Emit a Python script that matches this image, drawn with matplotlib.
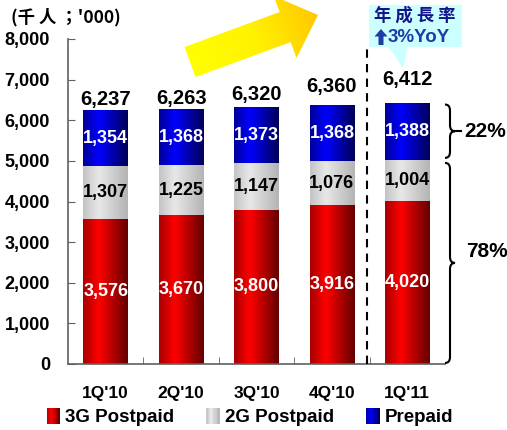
import numpy as np
import matplotlib.pyplot as plt
from matplotlib.colors import LinearSegmentedColormap
from matplotlib.patches import Polygon, Rectangle, PathPatch
from matplotlib.path import Path
from matplotlib.legend_handler import HandlerBase

# --- data ---
quarters = ["1Q'10", "2Q'10", "3Q'10", "4Q'10", "1Q'11"]
postpaid_3g = [3576, 3670, 3800, 3916, 4020]
postpaid_2g = [1307, 1225, 1147, 1076, 1004]
prepaid = [1354, 1368, 1373, 1368, 1388]
totals = [6237, 6263, 6320, 6360, 6412]
share_labels = ['22%', '78%']
yticks = [0, 1000, 2000, 3000, 4000, 5000, 6000, 7000, 8000]

# layout bits
total_pad = [8, 8, 9, 14, 17]   # points above bar top for total labels
W, H = 507, 430
FONT = ['Liberation Sans', 'DejaVu Sans']
CJK = ['Noto Sans CJK TC', 'Liberation Sans', 'DejaVu Sans']

red_cm = LinearSegmentedColormap.from_list('red', [(0, '#a80000'), (0.35, '#ff0000'), (1, '#640000')])
gray_cm = LinearSegmentedColormap.from_list('gray', [(0, '#c4c4c4'), (0.35, '#e8e8e8'), (1, '#b4b4b4')])
blue_cm = LinearSegmentedColormap.from_list('blue', [(0, '#000098'), (0.35, '#0000ff'), (1, '#000058')])
arrow_cm = LinearSegmentedColormap.from_list('arr', ['#ffff00', '#fff200', '#ffc800'])

plt.rcParams['font.family'] = FONT
plt.rcParams['font.weight'] = 'bold'

fig = plt.figure(figsize=(W / 100, H / 100), dpi=100)
ax = fig.add_axes([68 / W, 66 / H, 377 / W, 325 / H])

x = np.arange(len(quarters))
bw = 0.59
b1 = ax.bar(x, postpaid_3g, bw, color='none', zorder=2)
bottom2 = np.array(postpaid_3g)
b2 = ax.bar(x, postpaid_2g, bw, bottom=bottom2, color='none', zorder=2)
bottom3 = bottom2 + np.array(postpaid_2g)
b3 = ax.bar(x, prepaid, bw, bottom=bottom3, color='none', zorder=2)

grad = np.linspace(0, 1, 64).reshape(1, -1)
for cont, cm in [(b1, red_cm), (b2, gray_cm), (b3, blue_cm)]:
    for bar in cont:
        bx, by = bar.get_x(), bar.get_y()
        ax.imshow(grad, cmap=cm, extent=(bx, bx + bar.get_width(), by, by + bar.get_height()),
                  aspect='auto', zorder=2, interpolation='bicubic')

# segment labels
for i in range(len(quarters)):
    ax.text(x[i], postpaid_3g[i] / 2, f'{postpaid_3g[i]:,}', ha='center', va='center',
            color='white', fontsize=13, zorder=3)
    ax.text(x[i], bottom2[i] + postpaid_2g[i] / 2, f'{postpaid_2g[i]:,}', ha='center', va='center',
            color='black', fontsize=13, zorder=3)
    ax.text(x[i], bottom3[i] + prepaid[i] / 2, f'{prepaid[i]:,}', ha='center', va='center',
            color='white', fontsize=13, zorder=3)
    ax.annotate(f'{totals[i]:,}', (x[i], totals[i]), xytext=(0, total_pad[i]),
                textcoords='offset points', ha='center', va='center', fontsize=14.5)

# dashed separator
ax.plot([3.46, 3.46], [0, 7800], color='black', lw=1.5, linestyle=(0, (4, 3)), clip_on=False, zorder=4)

ax.set_xlim(-0.5, 4.5)
ax.set_ylim(0, 8000)
ax.set_yticks(yticks)
ax.set_yticklabels([f'{v:,}' for v in yticks])
ax.set_xticks(x)
ax.set_xticklabels(quarters)
ax.set_xticks(x[:-1] + 0.5, minor=True)
ax.tick_params(axis='x', which='major', length=0, pad=16, labelsize=12.5)
ax.tick_params(axis='x', which='minor', length=5, direction='in', color='#606060')
ax.tick_params(axis='y', length=5, direction='in', pad=13, labelsize=13, color='#606060')
for s in ['top', 'right']:
    ax.spines[s].set_visible(False)
for s in ['left', 'bottom']:
    ax.spines[s].set_color('#606060')
    ax.spines[s].set_linewidth(1.2)

# overlay in pixel coords (y down)
ov = fig.add_axes([0, 0, 1, 1], zorder=5)
ov.set_xlim(0, W)
ov.set_ylim(H, 0)
ov.axis('off')

# yellow arrow
T = np.array([190.0, 62.0])
P = np.array([318.0, 15.0])
d = (P - T) / np.linalg.norm(P - T)
n = np.array([-d[1], d[0]]) * -1
hb, hh, hl = 16, 33, 35
B = P - d * hl
pts = [T - n * hb, B - n * hb, B - n * hh, P, B + n * hh, B + n * hb, T + n * hb]
arrow = Polygon(pts, closed=True, fc='none', ec='none')
ov.add_patch(arrow)
xs = np.linspace(175, 325, 150)
ys = np.linspace(-10, 85, 95)
XX, YY = np.meshgrid(xs, ys)
proj = ((XX - T[0]) * d[0] + (YY - T[1]) * d[1]) / np.linalg.norm(P - T)
im = ov.imshow(proj, cmap=arrow_cm, extent=(175, 325, 85, -10), origin='upper',
               aspect='auto', vmin=0, vmax=1)
im.set_clip_path(arrow)

# callout box
ov.add_patch(Rectangle((369, 5), 93, 42, fc='#ccffff', ec='none'))
ov.add_patch(Polygon([(388, 46), (408, 46), (403, 68)], closed=True, fc='#ccffff', ec='none'))
ov.text(415, 16, '年 成 長 率', ha='center', va='center', fontsize=12.5, color='#14148c',
        family=CJK, fontweight='heavy')
ov.add_patch(Polygon([(381, 29), (387.5, 36.5), (383.5, 36.5), (383.5, 45), (378.5, 45),
                      (378.5, 36.5), (374.5, 36.5)], closed=True, fc='#1f3ca6', ec='none'))
ov.text(388, 37, '3%YoY', ha='left', va='center', fontsize=13.5, color='#1f3ca6', family=FONT)

# unit label
ov.text(11, 17, "(千 人 ；'000)", ha='left', va='center', fontsize=12.5, family=CJK,
        fontweight='heavy')


def ypix(v):
    return H - ax.transData.transform((0, v))[1]


def brace(y0, y1, xb, w):
    ym = (y0 + y1) / 2
    r = min(6, (y1 - y0) / 4)
    xm = xb + w / 2
    verts = [(xb, y0), (xm, y0), (xm, y0 + r), (xm, ym - r), (xm, ym), (xb + w, ym),
             (xm, ym), (xm, ym + r), (xm, y1 - r), (xm, y1), (xb, y1)]
    codes = [Path.MOVETO, Path.CURVE3, Path.CURVE3, Path.LINETO, Path.CURVE3, Path.CURVE3,
             Path.CURVE3, Path.CURVE3, Path.LINETO, Path.CURVE3, Path.CURVE3]
    ov.add_patch(PathPatch(Path(verts, codes), fc='none', ec='black', lw=1.5))
    return ym


top1 = ypix(totals[-1]) + 1
mid1 = ypix(bottom3[-1])
ym1 = brace(top1, mid1 - 2, 445, 10)
ov.plot([455, 461], [ym1, ym1], color='black', lw=1.5)
ov.text(464, ym1, share_labels[0], ha='left', va='center', fontsize=15)
ym2 = brace(mid1 + 3, ypix(0) - 1, 445, 10)
ov.text(466, ym2 - 11, share_labels[1], ha='left', va='center', fontsize=15)


# legend with gradient squares
class GradHandler(HandlerBase):
    def __init__(self, cm):
        super().__init__()
        self.cm = cm

    def create_artists(self, legend, orig_handle, xdescent, ydescent, width, height, fontsize, trans):
        k = 10
        out = []
        for i in range(k):
            out.append(Rectangle((-xdescent + i * width / k, -ydescent), width / k + 0.3, height,
                                 fc=self.cm((i + 0.5) / k), ec='none', lw=0, transform=trans))
        return out


handles = [b1, b2, b3]
fig.legend(handles, ['3G Postpaid', '2G Postpaid', 'Prepaid'],
           handler_map={b1: GradHandler(red_cm), b2: GradHandler(gray_cm), b3: GradHandler(blue_cm)},
           loc='center', bbox_to_anchor=(250 / W, 1 - 417 / H), ncol=3, frameon=False,
           fontsize=13.5, handlelength=0.7, handleheight=1.0, handletextpad=0.3, columnspacing=1.7)

fig.savefig('out.png', dpi=100)
